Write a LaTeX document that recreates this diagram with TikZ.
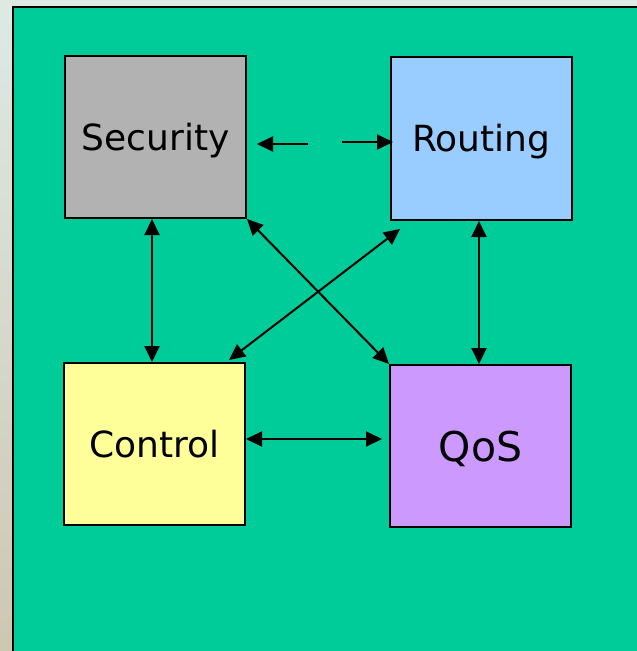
\documentclass[tikz,border=0pt]{standalone}
\usepackage{fontspec}
\setmainfont{DejaVu Sans}
\usetikzlibrary{arrows.meta}
\definecolor{slidegreen}{RGB}{0,204,153}
\definecolor{secgray}{RGB}{178,178,178}
\definecolor{routblue}{RGB}{153,204,255}
\definecolor{ctrlyellow}{RGB}{255,255,153}
\definecolor{qospurple}{RGB}{204,153,255}
\definecolor{edgetop}{RGB}{221,234,228}
\definecolor{edgebottom}{RGB}{206,199,178}
\tikzset{
  block/.style={draw=black, line width=2pt, inner sep=0pt,
    minimum width=181pt, minimum height=162pt,
    text height=26pt, text depth=0pt,
    font=\fontsize{36}{40}\selectfont},
  head/.tip={Triangle[length=16pt,width=15pt]},
  link/.style={line width=2pt, -head},
  duplex/.style={line width=2pt, head-head}
}
\begin{document}
\begin{tikzpicture}[x=1pt, y=-1pt]
  \useasboundingbox (0,0) rectangle (637,651);
  % backdrop and framed panel
  \shade[top color=edgetop, bottom color=edgebottom] (0,0) rectangle (637,651);
  \fill[slidegreen] (13,7) rectangle (637,651);
  \draw[line width=2pt] (13,651) -- (13,7) -- (637,7);

  % the four function blocks
  \node[block, fill=secgray]   (sec)  at (155.5,137)   {Security};
  \node[block, fill=routblue, minimum height=163pt] (rout) at (481.5,138.5) {Routing};
  \node[block, fill=ctrlyellow] (ctrl) at (154.5,444)  {Control};
  \node[block, fill=qospurple, text height=30pt,
        font=\fontsize{41}{45}\selectfont] (qos) at (480.5,446) {QoS};

  % Security / Routing: two one-way arrows
  \coordinate (sr1) at (308,144);
  \coordinate (sr2) at (342,142);
  \draw[link] (sr1) -- (257,144);
  \draw[link] (sr2) -- (393,142);

  % vertical links
  \draw[duplex] (sec.south -| 152,0) -- (ctrl.north -| 152,0);
  \draw[duplex] (rout.south -| 479,0) -- (qos.north -| 479,0);

  % crossing diagonals
  \draw[duplex] (sec.south east) -- (qos.north west);
  \coordinate (rc1) at (400,229);
  \coordinate (rc2) at (229,360);
  \draw[duplex] (rc1) -- (rc2);

  % Control / QoS
  \draw[duplex] (ctrl.east |- 0,439) -- (382,439);
\end{tikzpicture}
\end{document}
